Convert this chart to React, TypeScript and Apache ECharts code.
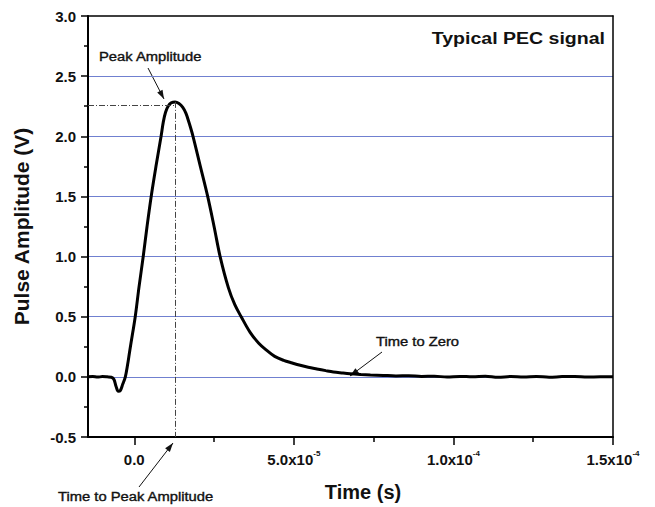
import React, { useEffect, useRef } from "react";
import * as echarts from "echarts";

// ---- data ----
const TIME_US = [
  -14.5, -13, -11.5, -10, -8.5, -7.2, -6.4, -5.7, -5.0, -4.4, -3.6, -2.8, -2.1, -1.4, -0.6, 0.3, 1.5, 2.8, 4.0, 5.3,
  6.8, 8.4, 9.1, 9.8, 10.6, 11.6, 12.8, 14.0, 15.2, 16.2, 17.2, 18.4, 20.7, 23.0, 25.0, 26.9, 29.5, 31.5, 33.5, 36.3,
  39.0, 41.5, 44.0, 46.8, 49.5, 52.0, 54.5, 57.2, 60.0, 62.4, 65.0, 67.6, 71, 74, 78, 82, 86, 90, 94, 98, 102, 106, 110,
  114, 118, 122, 126, 130, 134, 138, 142, 146, 150,
];
const VOLTS = [
  0, 0.003, -0.002, 0.002, 0, -0.003, -0.02, -0.08, -0.12, -0.115, -0.06, 0.0, 0.1, 0.22, 0.35, 0.5, 0.75, 1.0, 1.25,
  1.5, 1.75, 2.0, 2.12, 2.2, 2.25, 2.278, 2.286, 2.272, 2.24, 2.19, 2.11, 2.0, 1.75, 1.5, 1.25, 1.0, 0.74, 0.6, 0.5,
  0.37, 0.28, 0.22, 0.17, 0.137, 0.115, 0.096, 0.08, 0.066, 0.052, 0.041, 0.033, 0.026, 0.02, 0.016, 0.012, 0.008,
  0.01, 0.004, 0.006, -0.002, 0.004, 0.0, 0.005, -0.004, 0.003, -0.002, 0.004, -0.003, 0.002, 0.004, -0.002, 0.001, 0.0,
];
const X_MIN = -1.45e-5;
const X_MAX = 1.5e-4;
const Y_MIN = -0.5;
const Y_MAX = 3.0;
const Y_INTERVAL = 0.5;
const X_MAJOR_TICKS = [0, 5e-5, 1e-4, 1.5e-4];
const X_MINOR_TICKS = [2.5e-5, 7.5e-5, 1.25e-4];
const PEAK_TIME = 12.8e-6;
const PEAK_LEVEL = 2.26;
const PEAK_TOP = 2.286;

const FONT = "Liberation Sans, Arial, sans-serif";

function arrowHead(x1: number, y1: number, x2: number, y2: number, len = 9, half = 3) {
  const dx = x2 - x1;
  const dy = y2 - y1;
  const d = Math.sqrt(dx * dx + dy * dy);
  const ux = dx / d;
  const uy = dy / d;
  const bx = x2 - ux * len;
  const by = y2 - uy * len;
  return [
    [x2, y2],
    [bx - uy * half, by + ux * half],
    [bx + uy * half, by - ux * half],
  ];
}

function arrow(x1: number, y1: number, x2: number, y2: number) {
  return [
    { type: "line", shape: { x1, y1, x2, y2 }, style: { stroke: "#111", lineWidth: 1 } },
    { type: "polygon", shape: { points: arrowHead(x1, y1, x2, y2) }, style: { fill: "#111" } },
  ];
}

function annot(text: string, x: number, y: number, size = 12, weight = "normal", align = "left", sx = 1.23, sw = 0.35) {
  return {
    type: "text",
    x,
    y,
    scaleX: sx,
    style: {
      text,
      fontSize: size,
      fontWeight: weight,
      fontFamily: FONT,
      fill: "#111",
      stroke: "#111",
      lineWidth: sw,
      align,
      verticalAlign: "middle",
    },
  };
}

function xLabel(v: number) {
  if (Math.abs(v) < 1e-12) return "{a|0.0}";
  const e = Math.floor(Math.log10(v) + 1e-9);
  const m = v / Math.pow(10, e);
  return `{a|${m.toFixed(1)}x10}{s|${e}}`;
}

export default function App() {
  const ref = useRef<HTMLDivElement>(null);
  useEffect(() => {
    if (!ref.current) return;
    const chart = echarts.init(ref.current, undefined, { renderer: "svg" });
    const data = TIME_US.map((t, i) => [t * 1e-6, VOLTS[i]]);
    const axisCommon = { onZero: false };
    chart.setOption({
      animation: false,
      backgroundColor: "#fff",
      grid: { left: 88, right: 42, top: 16, bottom: 67 },
      xAxis: [
        {
          type: "value",
          min: X_MIN,
          max: X_MAX,
          position: "bottom",
          axisLine: { ...axisCommon, lineStyle: { color: "#000", width: 2 } },
          axisTick: { show: true, customValues: X_MAJOR_TICKS, length: 8, lineStyle: { color: "#000", width: 1.5 } },
          axisLabel: {
            customValues: X_MAJOR_TICKS,
            margin: 12,
            formatter: xLabel,
            rich: {
              a: { fontSize: 15, fontWeight: "bold", fontFamily: FONT, color: "#111", lineHeight: 18, verticalAlign: "bottom" },
              s: { fontSize: 8, fontWeight: "bold", fontFamily: FONT, color: "#111", lineHeight: 18, verticalAlign: "top" },
            },
          },
          splitLine: { show: false },
          name: "Time (s)",
          nameLocation: "middle",
          nameGap: 45,
          nameTextStyle: { fontSize: 20, fontWeight: "bold", fontFamily: FONT, color: "#111", padding: [0, 0, 0, 25] },
        },
        {
          type: "value",
          min: X_MIN,
          max: X_MAX,
          position: "top",
          z: 5,
          axisLine: { ...axisCommon, lineStyle: { color: "#000", width: 1.5 } },
          axisTick: { show: false },
          axisLabel: { show: false },
          splitLine: { show: false },
        },
        {
          type: "value",
          min: X_MIN,
          max: X_MAX,
          position: "bottom",
          axisLine: { ...axisCommon, show: false },
          axisTick: { show: true, customValues: X_MINOR_TICKS, length: 5, lineStyle: { color: "#000", width: 1.5 } },
          axisLabel: { show: false },
          splitLine: { show: false },
        },
      ],
      yAxis: [
        {
          type: "value",
          min: Y_MIN,
          max: Y_MAX,
          interval: Y_INTERVAL,
          position: "left",
          axisLine: { ...axisCommon, show: true, lineStyle: { color: "#000", width: 2 } },
          axisTick: { show: true, length: 7, lineStyle: { color: "#000", width: 1.5 } },
          minorTick: { show: true, splitNumber: 2, length: 4, lineStyle: { color: "#000", width: 1.5 } },
          axisLabel: {
            margin: 12,
            fontSize: 15,
            fontWeight: "bold",
            fontFamily: FONT,
            color: "#111",
            formatter: (v: number) => v.toFixed(1),
          },
          splitLine: { show: true, showMinLine: false, showMaxLine: false, lineStyle: { color: "#7080d0", width: 1 } },
          name: "Pulse Amplitude (V)",
          nameLocation: "middle",
          nameGap: 56,
          nameTextStyle: { fontSize: 21, fontWeight: "bold", fontFamily: FONT, color: "#111" },
        },
        {
          type: "value",
          min: Y_MIN,
          max: Y_MAX,
          interval: Y_INTERVAL,
          position: "right",
          z: 5,
          axisLine: { ...axisCommon, show: true, lineStyle: { color: "#000", width: 1.5 } },
          axisTick: { show: false },
          axisLabel: { show: false },
          splitLine: { show: false },
        },
      ],
      series: [
        {
          type: "line",
          data,
          showSymbol: false,
          smooth: 0.35,
          lineStyle: { color: "#000", width: 3 },
          z: 3,
          markLine: {
            silent: true,
            symbol: "none",
            label: { show: false },
            lineStyle: { color: "#444", width: 1, type: [6, 2, 1, 2] },
            data: [
              [{ coord: [X_MIN, PEAK_LEVEL] }, { coord: [PEAK_TIME, PEAK_LEVEL] }],
              [{ coord: [PEAK_TIME, PEAK_TOP] }, { coord: [PEAK_TIME, Y_MIN] }],
            ],
          },
        },
      ],
      graphic: [
        annot("Typical PEC signal", 605, 38, 17, "bold", "right", 1.15, 0),
        annot("Peak Amplitude", 99, 57),
        annot("Time to Zero", 376, 342),
        annot("Time to Peak Amplitude", 58, 497),
        ...arrow(148, 68, 164, 99),
        ...arrow(139, 487, 173, 443),
        ...arrow(382, 352, 350, 376),
      ],
    });
    return () => chart.dispose();
  }, []);
  return <div ref={ref} style={{ position: "fixed", left: 0, top: 0, width: 655, height: 507 }} />;
}
